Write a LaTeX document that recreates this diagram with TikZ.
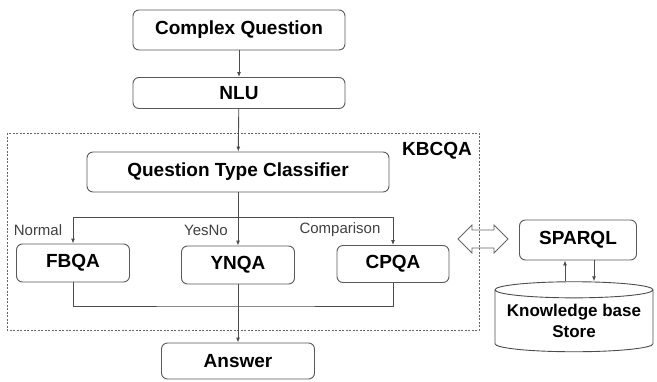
\documentclass[tikz,border=0pt]{standalone}
\usepackage{fontspec}
\setmainfont{Liberation Sans}
\usetikzlibrary{arrows.meta,shapes.geometric}

\begin{document}
\begin{tikzpicture}[
x=1pt, y=-1pt,
box/.style = {draw=black!65, rounded corners=6pt, inner sep=0pt,
  font=\bfseries\fontsize{19}{22}\selectfont},
lbl/.style = {inner sep=0pt, font=\fontsize{15}{17}\selectfont, text=black!75},
arr/.style = {-{Latex[length=5pt,width=4pt]}},
line width=0.9pt, draw=black!70
                    ]
\useasboundingbox (0,0) rectangle (657,381);

% main column
\node[box, minimum width=212pt, minimum height=40pt] (cq) at (239,30) {Complex Question};
\node[box, minimum width=212pt, minimum height=31pt] (nlu) at (239,93) {NLU};
\node[box, minimum width=302pt, minimum height=40pt] (qtc) at (238,172) {Question Type Classifier};

% answerers
\node[box, minimum width=113pt, minimum height=38pt] (fbqa) at (73,263) {FBQA};
\node[box, minimum width=113pt, minimum height=38pt] (ynqa) at (238,265) {YNQA};
\node[box, minimum width=112pt, minimum height=37pt] (cpqa) at (393,264) {CPQA};
\node[box, minimum width=153pt, minimum height=36pt] (answer) at (238,361) {Answer};

\node[lbl] (normal) at (38,230) {Normal};
\node[lbl] (yesno) at (206,230) {YesNo};
\node[lbl] (comp) at (340,230) {Comparison};

% KBCQA frame
\draw[black!60, line width=0.8pt, dash pattern=on 2pt off 1.5pt] (7,133) rectangle (479,330);
\node[inner sep=0pt, font=\bfseries\fontsize{19}{22}\selectfont] (kbcqa) at (437,151) {KBCQA};

% double arrow between frame and knowledge base
\draw[black!60, line width=0.8pt, line join=miter]
  (458,239) -- (472,225) -- (472,230) -- (494,230) -- (494,225) -- (508,239)
  -- (494,253) -- (494,248) -- (472,248) -- (472,253) -- cycle;

% knowledge base side
\node[box, minimum width=117pt, minimum height=40pt] (sparql) at (578,240) {SPARQL};
\node[cylinder, shape border rotate=90, draw=black!70, aspect=0.12,
  minimum width=158pt, minimum height=70pt, inner sep=0pt, align=center,
  font=\bfseries\fontsize{17}{21}\selectfont] (kb) at (574,321) {Knowledge base\\Store};

% connectors
\draw[arr] (cq) -- (nlu);
\draw[arr] (nlu) -- (qtc);

\coordinate (br) at (238,217);
\coordinate (mg) at (238,306);
\draw[arr] (qtc) -- (ynqa);
\draw[arr] (br) -| (fbqa);
\draw[arr] (br) -| (cpqa);
\draw (fbqa) |- (mg) -| (cpqa);
\draw[arr] (ynqa) -- (answer);

\draw[arr] ([xshift=-13pt]sparql.south |- kb.north) -- ([xshift=-13pt]sparql.south);
\draw[arr] ([xshift=16pt]sparql.south) -- ([xshift=16pt]sparql.south |- kb.north);

\end{tikzpicture}
\end{document}
